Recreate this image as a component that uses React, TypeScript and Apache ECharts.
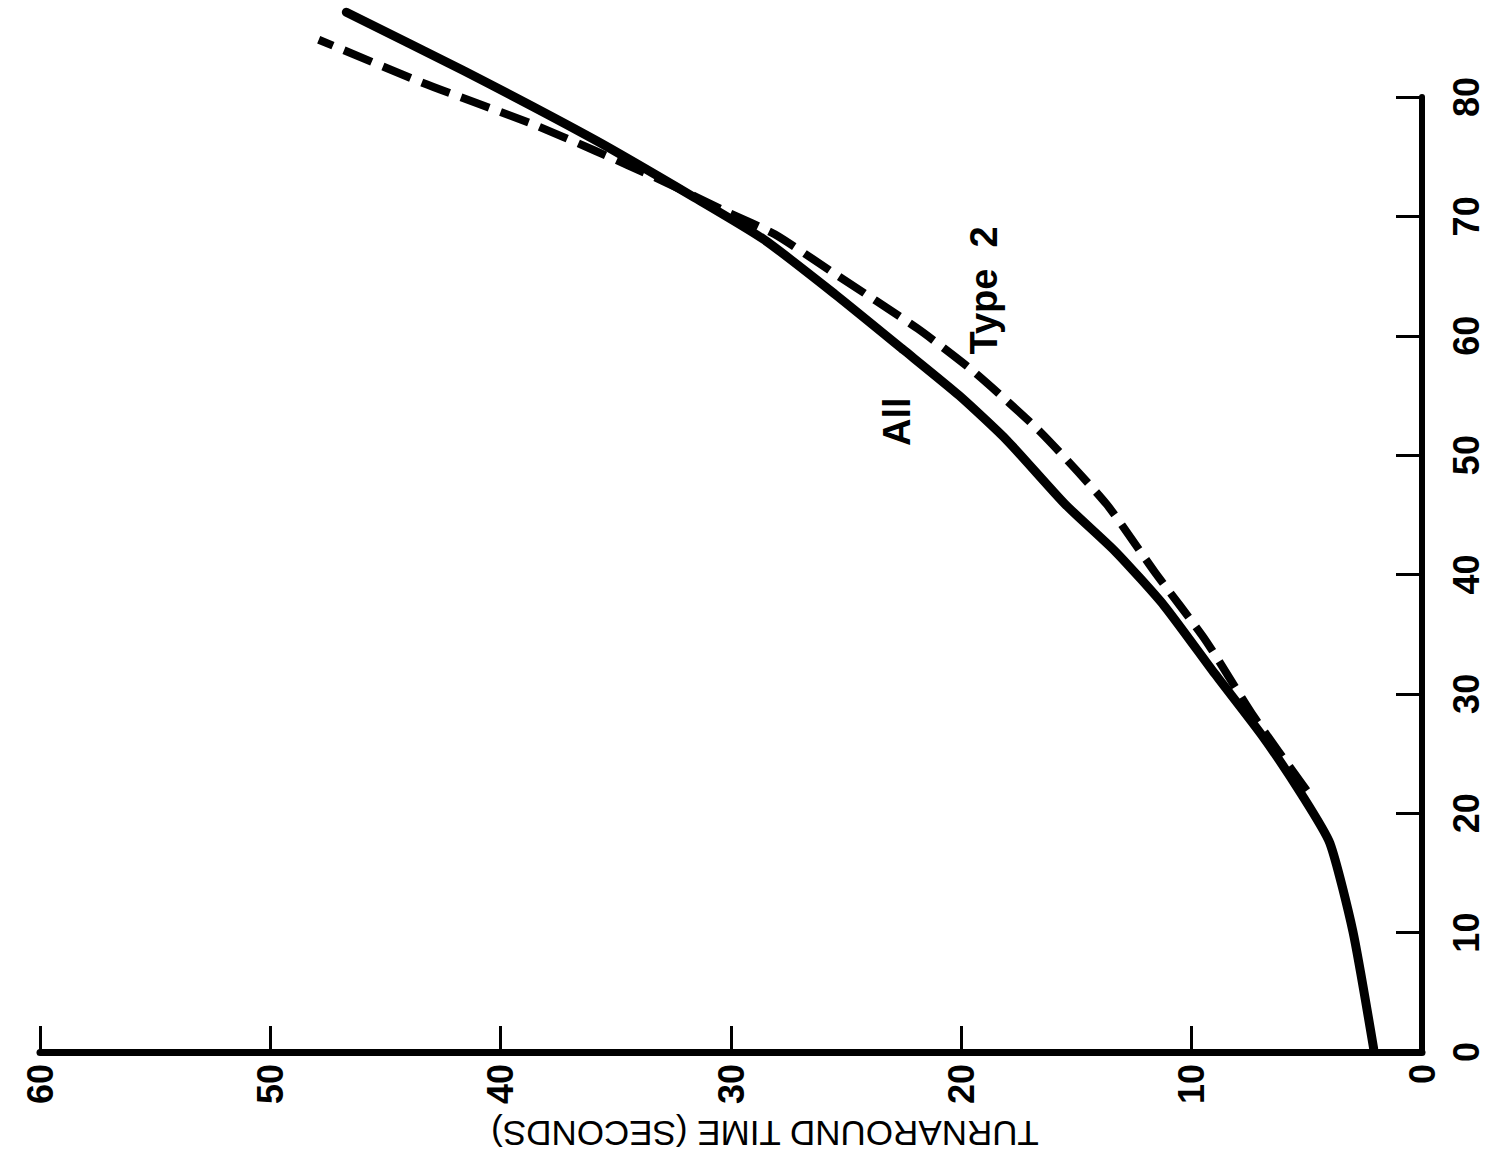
import React, { useEffect, useRef } from "react";
import * as echarts from "echarts";

const timeTicks = [0, 10, 20, 30, 40, 50, 60];
const countTicks = [0, 10, 20, 30, 40, 50, 60, 70, 80];

// "All" curve: [turnaround time (s), value]
const allTime = [2.1, 3.0, 4.0, 5.2, 6.9, 9.0, 11.2, 13.3, 15.5, 18.0, 20.1, 22.5, 25.5, 28.6, 31.6, 35.9, 41.6, 46.7];
const allValue = [0.3, 10.1, 17.5, 21.5, 26.4, 31.7, 37.4, 41.9, 45.9, 51.2, 55.0, 58.8, 63.5, 68.1, 71.6, 76.4, 82.2, 87.1];

// "Type 2" curve
const type2Time = [5.0, 7.3, 9.4, 11.6, 13.7, 16.6, 19.4, 21.9, 25.5, 28.1, 30.1, 33.0, 35.9, 38.7, 43.4, 47.9];
const type2Value = [21.9, 28.1, 34.5, 40.2, 45.9, 52.0, 56.9, 60.6, 65.2, 68.5, 70.3, 73.0, 75.5, 77.8, 81.2, 84.8];

const labelAll = { name: "All", time: 22.8, value: 52.8 };
const labelType2 = { name: "Type  2", time: 19.0, value: 63.8 };

const axisName = "TURNAROUND TIME (SECONDS)";

const FONT = "'Liberation Sans', Arial, sans-serif";

export default function App() {
  const ref = useRef<HTMLDivElement>(null);
  useEffect(() => {
    if (!ref.current) return;
    const chart = echarts.init(ref.current, undefined, { renderer: "svg" });
    const allData = allTime.map((t, i) => [t, allValue[i]]);
    const t2Data = type2Time.map((t, i) => [t, type2Value[i]]);
    const option: any = {
      animation: false,
      backgroundColor: "#ffffff",
      grid: {
        left: 40,
        right: 63,
        top: 97,
        bottom: 111,
        containLabel: false,
        outerBoundsMode: "none",
      },
      xAxis: {
        type: "value",
        min: timeTicks[0],
        max: timeTicks[timeTicks.length - 1],
        interval: 10,
        inverse: true,
        position: "bottom",
        splitLine: { show: false },
        axisLine: { show: true, onZero: false, lineStyle: { color: "#000", width: 7, cap: "round" } },
        axisTick: { show: true, inside: true, length: 26, lineStyle: { color: "#000", width: 3 } },
        axisLabel: {
          show: true,
          rotate: 90,
          margin: 12,
          color: "#000",
          fontFamily: FONT,
          fontWeight: "bold",
          fontSize: 36,
        },
      },
      yAxis: {
        type: "value",
        min: countTicks[0],
        max: countTicks[countTicks.length - 1],
        interval: 10,
        position: "right",
        splitLine: { show: false },
        axisLine: { show: true, onZero: false, lineStyle: { color: "#000", width: 6, cap: "round" } },
        axisTick: { show: true, inside: true, length: 26, lineStyle: { color: "#000", width: 3 } },
        axisLabel: {
          show: true,
          rotate: 90,
          margin: 26,
          color: "#000",
          fontFamily: FONT,
          fontWeight: "bold",
          fontSize: 36,
        },
      },
      series: [
        {
          name: "All",
          type: "line",
          data: allData,
          smooth: 0.2,
          showSymbol: false,
          symbol: "none",
          clip: false,
          lineStyle: { color: "#000", width: 9, cap: "round", join: "round" },
        },
        {
          name: "Type 2",
          type: "line",
          data: t2Data,
          smooth: 0.2,
          showSymbol: false,
          symbol: "none",
          clip: false,
          lineStyle: { color: "#000", width: 8, type: [30, 12], cap: "butt", join: "round" },
        },
        {
          name: "labels",
          type: "scatter",
          symbolSize: 0,
          clip: false,
          silent: true,
          itemStyle: { opacity: 1, color: "#000" },
          data: [
            { name: labelAll.name, value: [labelAll.time, labelAll.value] },
            { name: labelType2.name, value: [labelType2.time, labelType2.value] },
          ],
          label: {
            show: true,
            position: "inside",
            formatter: (p: any) => p.name,
            rotate: 90,
            color: "#000",
            opacity: 1,
            fontFamily: FONT,
            fontWeight: "bold",
            fontSize: 38,
          },
        },
      ],
      graphic: [
        {
          type: "text",
          x: 765,
          y: 1133,
          rotation: Math.PI,
          style: {
            text: axisName,
            fill: "#000",
            font: `normal 35px ${FONT}`,
            textAlign: "center",
            textVerticalAlign: "middle",
          },
        },
      ],
    };
    chart.setOption(option);
    return () => chart.dispose();
  }, []);
  return (
    <div
      ref={ref}
      style={{ position: "fixed", left: 0, top: 0, width: 1485, height: 1163, background: "#fff" }}
    />
  );
}
